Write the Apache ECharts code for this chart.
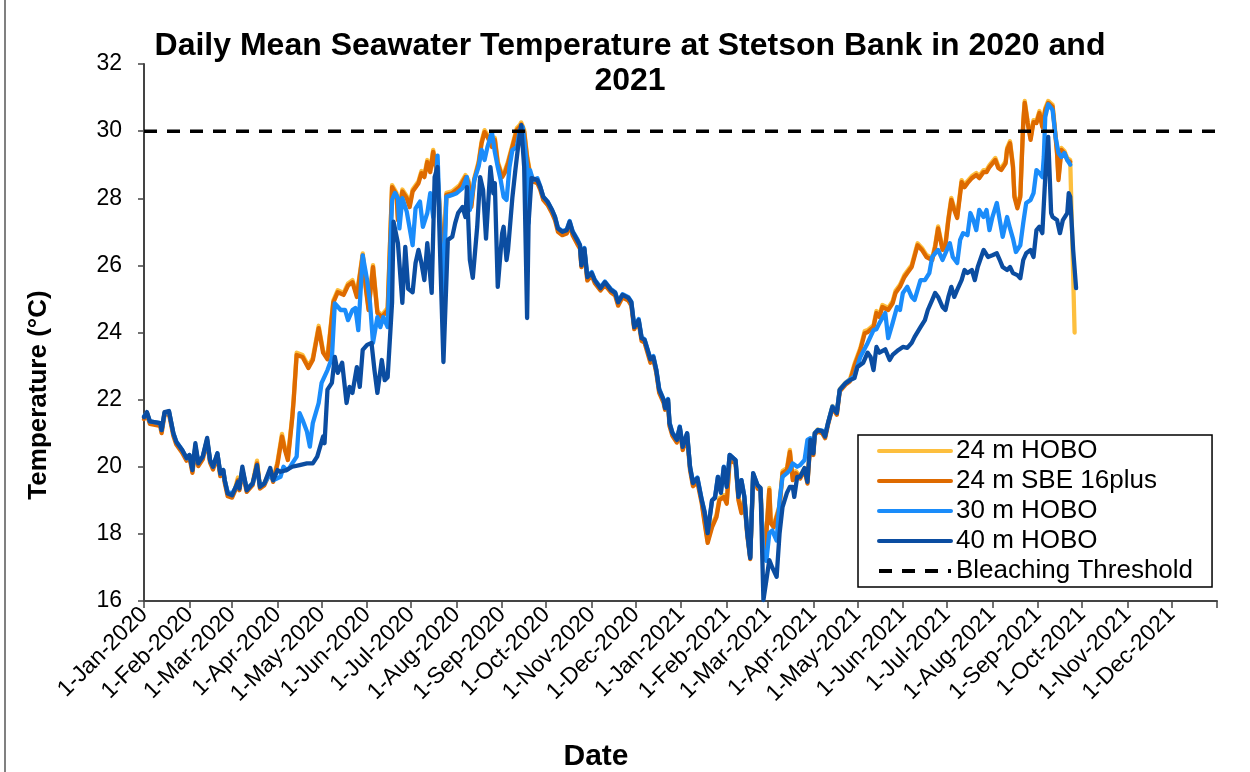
<!DOCTYPE html>
<html><head><meta charset="utf-8">
<script src="https://cdn.jsdelivr.net/npm/echarts@6/dist/echarts.min.js"></script>
<style>html,body{margin:0;padding:0;background:#fff}#c{width:1250px;height:772px}</style>
</head><body><div id="c"></div>
<script>
// x values are days since 1-Jan-2020
const tickLabels = ['1-Jan-2020','1-Feb-2020','1-Mar-2020','1-Apr-2020','1-May-2020','1-Jun-2020','1-Jul-2020','1-Aug-2020','1-Sep-2020','1-Oct-2020','1-Nov-2020','1-Dec-2020','1-Jan-2021','1-Feb-2021','1-Mar-2021','1-Apr-2021','1-May-2021','1-Jun-2021','1-Jul-2021','1-Aug-2021','1-Sep-2021','1-Oct-2021','1-Nov-2021','1-Dec-2021'];
const yTicks = [16,18,20,22,24,26,28,30,32];
const threshold = 30;

const hobo24 = [[0,21.48],[2,21.61],[4,21.34],[11,21.28],[12,21.06],[14,21.61],[17,21.64],[20,20.98],[22,20.72],[26,20.48],[29,20.24],[31,20.34],[33,19.88],[35,20.61],[37,20.08],[40,20.28],[43,20.81],[45,20.18],[47,19.98],[50,20.36],[52,19.78],[54,19.88],[55,19.58],[57,19.18],[60,19.14],[62,19.34],[64,19.68],[65,19.36],[67,19.91],[70,19.31],[74,19.51],[77,20.18],[79,19.41],[82,19.51],[86,19.91],[88,19.61],[91,20.16],[94,20.98],[96,20.56],[98,20.26],[101,21.51],[102,22.06],[104,23.4],[108,23.33],[112,23.0],[115,23.24],[119,24.2],[122,23.46],[125,23.26],[129,24.96],[132,25.26],[136,25.18],[139,25.46],[142,25.56],[145,25.12],[149,26.36],[151,25.42],[153,24.73],[156,26.01],[159,24.64],[162,24.52],[166,24.73],[169,28.39],[172,28.16],[173,27.41],[176,28.26],[179,28.06],[181,27.8],[183,28.26],[187,28.51],[189,28.81],[191,28.69],[193,29.14],[195,28.84],[197,29.44],[200,28.69],[204,25.92],[206,28.16],[210,28.21],[215,28.39],[219,28.69],[221,28.54],[223,27.8],[225,28.6],[228,29.1],[230,29.7],[232,30.03],[234,29.89],[237,29.59],[239,29.8],[241,29.1],[244,28.69],[246,28.84],[248,29.1],[251,29.59],[254,30.09],[256,30.18],[257,30.26],[259,30.03],[261,29.26],[263,28.76],[265,28.56],[268,28.51],[270,28.31],[272,28.01],[275,27.86],[278,27.61],[280,27.41],[282,27.06],[285,26.96],[288,27.01],[290,27.26],[292,26.96],[295,26.71],[297,26.56],[298,26.01],[300,26.46],[302,25.61],[305,25.76],[307,25.54],[311,25.31],[314,25.48],[318,25.26],[321,25.16],[323,24.86],[326,25.11],[330,25.01],[332,24.86],[334,24.16],[337,24.36],[339,23.81],[341,23.76],[345,23.16],[347,23.26],[349,22.86],[351,22.26],[354,21.96],[355,21.76],[357,21.98],[358,21.28],[360,20.98],[363,20.78],[365,21.16],[367,20.56],[370,20.96],[372,19.96],[374,19.48],[377,19.61],[380,18.96],[382,18.36],[384,17.79],[387,18.26],[390,18.56],[392,19.06],[395,19.16],[397,18.96],[399,20.26],[403,20.16],[405,19.06],[407,18.68],[409,19.06],[411,18.01],[413,17.31],[415,19.76],[418,19.41],[420,19.36],[422,17.46],[424,18.06],[426,19.37],[427,18.38],[429,18.26],[433,18.86],[435,19.87],[438,19.96],[440,20.5],[442,19.66],[444,19.87],[447,19.71],[450,19.96],[452,19.56],[454,20.81],[456,20.41],[457,21.01],[459,21.11],[462,21.06],[464,20.91],[466,21.31],[469,21.81],[472,21.61],[474,22.31],[478,22.51],[481,22.61],[484,23.06],[488,23.54],[491,24.04],[493,24.07],[497,24.22],[499,24.64],[501,24.52],[503,24.82],[507,24.73],[510,24.93],[512,25.24],[515,25.42],[518,25.71],[520,25.83],[523,26.01],[527,26.66],[530,26.52],[533,26.31],[537,26.22],[539,26.61],[541,27.16],[544,26.52],[546,26.66],[548,27.41],[550,28.01],[552,27.71],[554,27.47],[557,28.54],[559,28.39],[561,28.51],[564,28.66],[567,28.75],[569,28.66],[572,28.84],[574,28.84],[576,28.99],[580,29.2],[582,28.96],[584,28.9],[587,29.1],[588,29.5],[590,29.7],[592,28.99],[593,28.1],[595,27.76],[597,28.1],[599,30.3],[600,30.9],[602,30.3],[604,29.8],[606,30.33],[608,30.3],[610,30.6],[612,30.18],[614,30.69],[616,30.9],[619,30.78],[621,29.89],[622,29.41],[623,28.6],[625,29.5],[627,29.41],[629,29.2],[631,29.14],[634,24.0]];

const sbe24 = [[0,21.42],[2,21.55],[4,21.28],[11,21.22],[12,21.0],[14,21.55],[17,21.58],[20,20.92],[22,20.66],[26,20.42],[29,20.18],[31,20.28],[33,19.82],[35,20.55],[37,20.02],[40,20.22],[43,20.75],[45,20.12],[47,19.92],[50,20.3],[52,19.72],[54,19.82],[55,19.52],[57,19.12],[60,19.08],[62,19.28],[64,19.6],[65,19.3],[67,19.85],[70,19.25],[74,19.45],[77,20.1],[79,19.35],[82,19.45],[86,19.85],[88,19.55],[91,20.1],[94,20.9],[96,20.5],[98,20.2],[101,21.45],[102,22.0],[104,23.33],[108,23.27],[112,22.94],[115,23.18],[119,24.13],[122,23.4],[125,23.2],[129,24.9],[132,25.2],[136,25.12],[139,25.4],[142,25.5],[145,25.06],[149,26.3],[151,25.36],[153,24.67],[156,25.95],[159,24.58],[162,24.46],[166,24.67],[169,28.33],[172,28.1],[173,27.35],[176,28.2],[179,28.0],[181,27.74],[183,28.2],[187,28.45],[189,28.75],[191,28.63],[193,29.08],[195,28.78],[197,29.38],[200,28.63],[204,25.86],[206,28.1],[210,28.15],[215,28.33],[219,28.63],[221,28.48],[223,27.74],[225,28.54],[228,29.04],[230,29.64],[232,29.97],[234,29.83],[237,29.53],[239,29.74],[241,29.04],[244,28.63],[246,28.78],[248,29.04],[251,29.53],[254,30.03],[256,30.12],[257,30.2],[259,29.97],[261,29.2],[263,28.7],[265,28.5],[268,28.45],[270,28.25],[272,27.95],[275,27.8],[278,27.55],[280,27.35],[282,27.0],[285,26.9],[288,26.95],[290,27.2],[292,26.9],[295,26.65],[297,26.5],[298,25.95],[300,26.4],[302,25.55],[305,25.7],[307,25.48],[311,25.25],[314,25.42],[318,25.2],[321,25.1],[323,24.8],[326,25.05],[330,24.95],[332,24.8],[334,24.1],[337,24.3],[339,23.75],[341,23.7],[345,23.1],[347,23.2],[349,22.8],[351,22.2],[354,21.9],[355,21.7],[357,21.92],[358,21.22],[360,20.92],[363,20.72],[365,21.1],[367,20.5],[370,20.9],[372,19.9],[374,19.42],[377,19.55],[380,18.9],[382,18.3],[384,17.73],[387,18.2],[390,18.5],[392,19.0],[395,19.1],[397,18.9],[399,20.2],[403,20.1],[405,19.0],[407,18.62],[409,19.0],[411,17.95],[413,17.25],[415,19.7],[418,19.35],[420,19.3],[422,17.4],[424,18.0],[426,19.31],[427,18.32],[429,18.2],[433,18.8],[435,19.81],[438,19.9],[440,20.44],[442,19.6],[444,19.81],[447,19.65],[450,19.9],[452,19.5],[454,20.75],[456,20.35],[457,20.95],[459,21.05],[462,21.0],[464,20.85],[466,21.25],[469,21.75],[472,21.55],[474,22.25],[478,22.45],[481,22.55],[484,23.0],[488,23.48],[491,23.98],[493,24.01],[497,24.16],[499,24.58],[501,24.46],[503,24.76],[507,24.67],[510,24.87],[512,25.18],[515,25.36],[518,25.65],[520,25.77],[523,25.95],[527,26.6],[530,26.46],[533,26.25],[537,26.16],[539,26.55],[541,27.1],[544,26.46],[546,26.6],[548,27.35],[550,27.95],[552,27.65],[554,27.41],[557,28.48],[559,28.33],[561,28.45],[564,28.6],[567,28.69],[569,28.6],[572,28.78],[574,28.78],[576,28.93],[580,29.14],[582,28.9],[584,28.84],[587,29.04],[588,29.44],[590,29.64],[592,28.93],[593,28.04],[595,27.7],[597,28.04],[599,30.24],[600,30.84],[602,30.24],[604,29.74],[606,30.27],[608,30.24],[610,30.54],[612,30.12],[614,30.63],[616,30.84],[619,30.72],[621,29.83],[622,29.35],[623,28.54],[625,29.44],[627,29.35],[629,29.14],[631,29.08]];

const hobo30 = [[0,21.5],[2,21.6],[4,21.35],[11,21.3],[12,21.1],[14,21.6],[17,21.65],[20,21.0],[22,20.75],[26,20.5],[29,20.25],[31,20.35],[33,19.95],[35,20.6],[37,20.15],[40,20.3],[43,20.8],[45,20.2],[47,20.0],[50,20.4],[52,19.8],[54,19.9],[55,19.6],[57,19.25],[60,19.2],[62,19.35],[64,19.5],[65,19.4],[67,19.9],[70,19.35],[74,19.5],[77,19.95],[79,19.45],[82,19.5],[86,19.8],[88,19.6],[93,19.7],[95,20.0],[97,19.9],[99,19.96],[101,20.1],[104,20.3],[106,21.6],[108,21.4],[111,21.05],[113,20.6],[115,21.3],[119,21.9],[121,22.5],[125,22.88],[128,23.24],[130,24.87],[134,24.67],[137,24.67],[139,24.37],[142,24.67],[144,24.73],[146,24.07],[149,26.3],[152,25.56],[154,24.87],[156,23.69],[159,24.46],[161,24.16],[163,24.46],[166,24.16],[169,27.95],[171,28.16],[173,28.0],[174,27.1],[176,28.0],[179,27.6],[183,26.6],[185,27.7],[188,27.9],[190,27.15],[193,27.56],[195,28.15],[197,27.44],[200,29.27],[202,26.76],[204,24.97],[206,28.04],[210,28.1],[213,28.15],[217,28.3],[220,28.63],[222,27.65],[225,28.54],[228,28.95],[230,29.44],[232,29.14],[234,29.53],[237,29.97],[239,29.38],[241,28.93],[243,28.54],[245,28.04],[247,27.95],[249,28.93],[251,29.44],[254,29.53],[256,30.03],[258,30.12],[261,28.93],[262,27.26],[263,28.84],[265,28.54],[268,28.6],[270,28.35],[272,28.05],[275,27.9],[278,27.65],[280,27.45],[282,27.12],[285,27.02],[288,27.07],[290,27.32],[292,27.02],[295,26.8],[297,26.62],[298,26.1],[300,26.52],[302,25.7],[305,25.8],[307,25.58],[311,25.35],[314,25.52],[318,25.3],[321,25.2],[323,24.92],[326,25.14],[330,25.05],[332,24.92],[334,24.2],[337,24.4],[339,23.86],[341,23.8],[345,23.22],[347,23.3],[349,22.9],[351,22.32],[354,22.0],[355,21.78],[357,22.02],[358,21.32],[360,21.02],[363,20.82],[365,21.2],[367,20.62],[370,21.0],[372,20.0],[374,19.55],[377,19.68],[380,19.02],[382,18.65],[384,18.05],[387,19.0],[389,19.1],[391,19.7],[393,19.25],[395,20.0],[397,19.42],[399,20.35],[403,20.2],[405,19.15],[407,19.6],[409,19.12],[411,18.05],[413,17.3],[415,19.8],[418,19.45],[420,19.35],[422,17.3],[424,17.2],[426,18.02],[428,18.1],[431,17.8],[433,19.0],[435,19.7],[438,19.81],[440,19.9],[442,20.1],[443,20.1],[445,20.0],[447,20.05],[450,20.2],[452,20.8],[454,20.85],[456,20.45],[457,21.0],[459,21.1],[462,21.08],[464,20.95],[466,21.3],[469,21.8],[472,21.65],[474,22.3],[478,22.5],[481,22.6],[484,22.7],[486,23.0],[488,23.27],[493,23.69],[497,24.07],[499,24.1],[501,24.28],[505,24.58],[507,23.83],[508,23.87],[510,24.28],[513,24.76],[515,24.67],[517,25.18],[520,25.36],[523,25.06],[525,24.97],[529,25.56],[532,25.56],[535,25.77],[537,26.25],[541,26.46],[544,26.16],[547,26.46],[549,26.66],[551,26.25],[554,26.07],[556,26.76],[558,26.96],[561,26.9],[563,27.56],[565,27.35],[567,27.05],[569,27.65],[572,27.44],[574,27.65],[576,27.05],[578,27.44],[581,27.86],[583,27.35],[585,26.85],[588,27.44],[590,27.1],[592,26.8],[594,26.4],[597,26.6],[599,27.26],[601,27.86],[604,27.95],[606,28.15],[608,28.84],[610,28.75],[612,28.63],[613,29.23],[614,30.42],[616,30.8],[619,30.63],[621,29.83],[623,29.35],[625,29.23],[627,29.35],[629,29.14],[631,29.0]];

const hobo40 = [[0,21.48],[2,21.63],[4,21.35],[11,21.3],[12,21.09],[14,21.63],[17,21.66],[20,21.0],[22,20.74],[26,20.5],[29,20.26],[31,20.35],[33,19.9],[35,20.7],[37,20.1],[40,20.3],[43,20.86],[45,20.2],[47,20.0],[50,20.4],[52,19.8],[54,19.9],[55,19.6],[57,19.2],[60,19.15],[62,19.35],[64,19.55],[65,19.35],[67,20.0],[70,19.3],[74,19.5],[77,20.05],[79,19.4],[82,19.5],[86,19.96],[88,19.6],[91,19.9],[93,19.85],[97,19.9],[101,20.0],[106,20.05],[111,20.1],[115,20.1],[118,20.3],[120,20.6],[122,20.9],[123,20.7],[125,22.3],[128,22.5],[130,23.27],[132,22.8],[135,23.1],[138,21.9],[140,22.38],[142,22.2],[145,22.97],[147,22.38],[149,23.48],[152,23.63],[155,23.69],[157,22.88],[159,22.2],[162,23.18],[164,22.58],[166,22.67],[169,24.9],[170,27.3],[173,26.66],[176,24.88],[178,26.55],[180,25.3],[183,25.2],[185,26.07],[187,26.46],[189,26.07],[191,25.56],[193,26.66],[196,25.18],[198,28.63],[200,28.93],[202,25.95],[204,23.12],[207,26.76],[210,26.85],[212,27.26],[214,27.56],[217,27.74],[219,27.44],[220,28.33],[222,26.16],[224,25.63],[227,27.15],[229,28.63],[231,28.25],[233,26.8],[236,28.93],[238,28.15],[239,28.45],[241,25.36],[244,26.96],[245,27.15],[247,26.16],[248,26.46],[251,28.04],[253,28.84],[255,29.59],[257,30.18],[259,28.93],[261,24.43],[262,27.26],[264,28.6],[268,28.54],[270,28.33],[272,28.04],[275,27.89],[278,27.65],[280,27.44],[282,27.1],[285,27.0],[288,27.05],[290,27.3],[292,27.0],[295,26.76],[297,26.6],[298,26.0],[300,26.5],[302,25.65],[305,25.77],[307,25.56],[311,25.32],[314,25.5],[318,25.27],[321,25.18],[323,24.9],[326,25.12],[330,25.03],[332,24.9],[334,24.16],[337,24.37],[339,23.83],[341,23.78],[345,23.2],[347,23.27],[349,22.88],[351,22.29],[354,21.99],[355,21.75],[357,22.0],[358,21.3],[360,21.0],[363,20.8],[365,21.18],[367,20.59],[370,21.0],[372,19.99],[374,19.51],[377,19.66],[380,19.0],[382,18.62],[384,18.02],[387,19.0],[389,19.07],[391,19.7],[393,19.22],[395,19.99],[397,19.4],[399,20.35],[403,20.2],[405,19.1],[407,19.6],[409,19.1],[411,18.02],[413,17.28],[415,19.81],[418,19.45],[420,19.37],[422,16.03],[424,16.62],[426,17.22],[428,17.0],[431,16.72],[433,18.02],[435,18.8],[438,19.22],[440,19.4],[442,19.4],[443,19.1],[445,19.7],[447,19.7],[450,19.96],[452,19.55],[454,20.8],[456,20.4],[457,21.0],[459,21.09],[462,21.06],[464,20.9],[466,21.3],[469,21.78],[472,21.6],[474,22.29],[478,22.49],[481,22.58],[484,22.64],[486,22.97],[490,23.1],[493,23.4],[495,23.27],[497,22.88],[499,23.57],[501,23.4],[505,23.5],[508,23.18],[510,23.33],[514,23.48],[517,23.57],[520,23.54],[523,23.69],[525,23.87],[529,24.16],[532,24.37],[534,24.67],[537,24.97],[539,25.18],[541,25.06],[544,24.76],[546,24.67],[548,25.06],[550,25.36],[552,25.06],[554,25.27],[557,25.56],[559,25.86],[561,25.77],[564,25.86],[566,25.56],[568,25.95],[572,26.46],[575,26.25],[578,26.3],[581,26.36],[583,26.16],[585,25.95],[588,25.86],[590,25.95],[592,25.77],[595,25.71],[597,25.62],[599,26.16],[601,26.36],[604,26.46],[606,26.25],[608,27.05],[610,27.15],[612,26.96],[614,28.63],[616,29.83],[618,27.56],[619,27.44],[622,27.35],[624,26.96],[626,27.35],[629,27.56],[630,28.15],[631,28.04],[633,26.46],[635,25.32]];

const seriesNames = ['24 m HOBO','24 m SBE 16plus','30 m HOBO','40 m HOBO','Bleaching Threshold'];

// ---- helpers (axis geometry) ----
const MONTHS = {Jan:0,Feb:1,Mar:2,Apr:3,May:4,Jun:5,Jul:6,Aug:7,Sep:8,Oct:9,Nov:10,Dec:11};
const base = Date.UTC(2020,0,1);
function labelToDay(l){const p=l.split('-');return Math.round((Date.UTC(+p[2],MONTHS[p[1]],+p[0])-base)/86400000);}
const labelDays = tickLabels.map(labelToDay);
const endDay = Math.round((Date.UTC(2022,0,1)-base)/86400000);
const tickDays = labelDays.concat([endDay]);
const dayToLabel = {}; labelDays.forEach((d,i)=>{dayToLabel[d]=tickLabels[i];});

const FONT = '"Liberation Sans", Arial, sans-serif';
const chart = echarts.init(document.getElementById('c'), null, {renderer:'canvas'});
const lineS = (name, data, color, z) => ({
  name, type:'line', data, showSymbol:false, symbol:'none', z,
  lineStyle:{color, width:4.3, cap:'round', join:'round'}, itemStyle:{color},
  animation:false, silent:true
});
chart.setOption({
  backgroundColor:'#fff',
  animation:false,
  grid:{left:144, right:33, top:64, bottom:171, containLabel:false},
  xAxis:{
    type:'value', min:0, max:endDay,
    axisLine:{show:true, lineStyle:{color:'#444', width:2}},
    axisTick:{show:true, inside:false, length:7, customValues:tickDays, lineStyle:{color:'#444', width:1.5}},
    axisLabel:{customValues:labelDays, rotate:45, fontSize:23, color:'#000', fontFamily:FONT, margin:10,
      formatter:(v)=> dayToLabel[Math.round(v)] || ''},
    splitLine:{show:false}
  },
  yAxis:{
    type:'value', min:yTicks[0], max:yTicks[yTicks.length-1], interval:2,
    axisLine:{show:true, lineStyle:{color:'#444', width:2}},
    axisTick:{show:true, inside:false, length:6, lineStyle:{color:'#444', width:1.5}},
    axisLabel:{fontSize:23, color:'#000', fontFamily:FONT, margin:22},
    splitLine:{show:false}
  },
  legend:{
    left:858, top:435, orient:'vertical',
    data:seriesNames,
    itemWidth:72, itemHeight:14, itemGap:4,
    padding:[3,19,3,19],
    borderColor:'#000', borderWidth:1.5, backgroundColor:'#fff',
    itemStyle:{opacity:0},
    lineStyle:{width:4},
    textStyle:{fontSize:26, color:'#000', fontFamily:FONT, lineHeight:26},
    selectedMode:false
  },
  series:[
    lineS(seriesNames[0], hobo24, '#FDBF3E', 2),
    lineS(seriesNames[1], sbe24, '#DE6A00', 3),
    lineS(seriesNames[2], hobo30, '#1A8CFA', 4),
    lineS(seriesNames[3], hobo40, '#0B4DA1', 5),
    {name:seriesNames[4], type:'line', data:[[0,threshold],[endDay,threshold]], showSymbol:false, symbol:'none', z:6,
     lineStyle:{color:'#000', width:3.5, type:[13,10]}, itemStyle:{color:'#000'}, animation:false, silent:true}
  ],
  graphic:[
    {type:'line', shape:{x1:5, y1:0, x2:5, y2:772}, style:{stroke:'#808080', lineWidth:2}, silent:true},
    {type:'text', x:630, y:64, style:{text:'Daily Mean Seawater Temperature at Stetson Bank in 2020 and\n2021', font:'bold 32px '+FONT, textAlign:'center', textVerticalAlign:'middle', lineHeight:35, fill:'#000'}},
    {type:'text', x:596, y:757, style:{text:'Date', font:'bold 30px '+FONT, textAlign:'center', textVerticalAlign:'middle', fill:'#000'}},
    {type:'text', x:39, y:395, rotation:Math.PI/2, style:{text:'Temperature (°C)', font:'bold 26px '+FONT, textAlign:'center', textVerticalAlign:'middle', fill:'#000'}}
  ]
});
</script></body></html>
